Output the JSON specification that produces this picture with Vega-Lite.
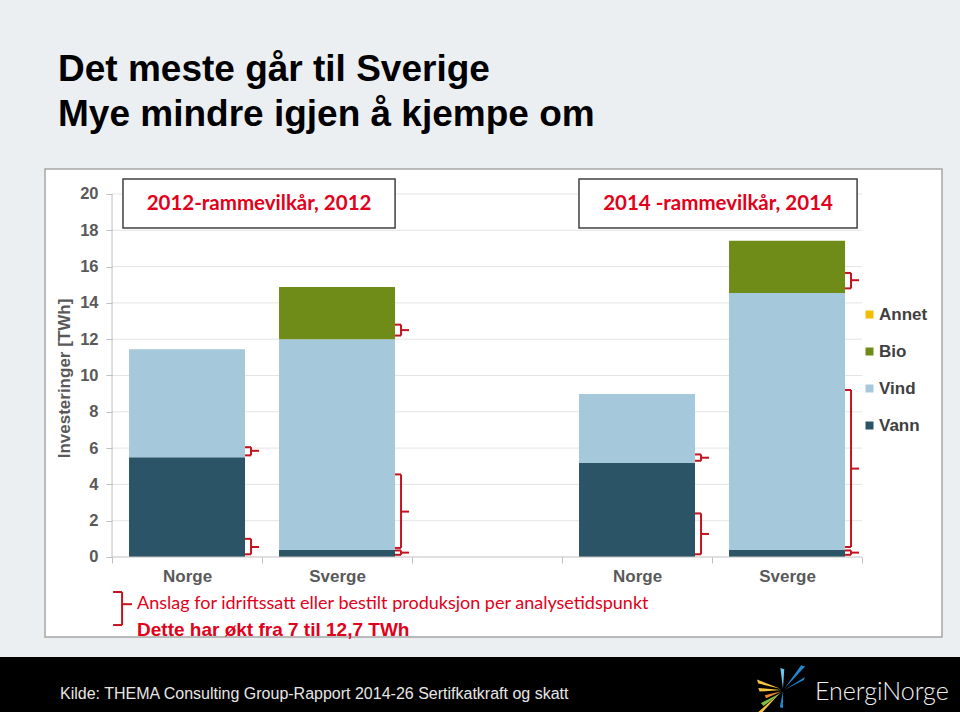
{
  "$schema": "https://vega.github.io/schema/vega-lite/v6.json",
  "background": "#eceff2",
  "padding": {"left": 0, "right": 0, "top": 51, "bottom": 0},
  "spacing": 16,
  "title": {
    "text": ["Det meste går til Sverige", "Mye mindre igjen å kjempe om"],
    "anchor": "start",
    "frame": "group",
    "dx": 58,
    "offset": 34,
    "font": "Liberation Sans",
    "fontSize": 37,
    "fontWeight": "bold",
    "color": "#000000",
    "lineHeight": 45
  },
  "config": {"view": {"stroke": null}, "font": "Liberation Sans"},
  "datasets": {
    "bars": [
      {"slot": "Norge 2012", "src": "Vann", "idx": 1, "v": 5.5},
      {"slot": "Norge 2012", "src": "Vind", "idx": 2, "v": 5.95},
      {"slot": "Sverge 2012", "src": "Vann", "idx": 1, "v": 0.38},
      {"slot": "Sverge 2012", "src": "Vind", "idx": 2, "v": 11.62},
      {"slot": "Sverge 2012", "src": "Bio", "idx": 3, "v": 2.88},
      {"slot": "Norge 2014", "src": "Vann", "idx": 1, "v": 5.18},
      {"slot": "Norge 2014", "src": "Vind", "idx": 2, "v": 3.8},
      {"slot": "Sverge 2014", "src": "Vann", "idx": 1, "v": 0.38},
      {"slot": "Sverge 2014", "src": "Vind", "idx": 2, "v": 14.17},
      {"slot": "Sverge 2014", "src": "Bio", "idx": 3, "v": 2.88}
    ],
    "br": [
      {"slot": "Norge 2012", "lo": 0.15, "hi": 1.0, "mid": 0.55},
      {"slot": "Norge 2012", "lo": 5.6, "hi": 6.05, "mid": 5.85},
      {"slot": "Sverge 2012", "lo": 0.12, "hi": 0.36, "mid": 0.24},
      {"slot": "Sverge 2012", "lo": 0.5, "hi": 4.55, "mid": 2.5},
      {"slot": "Sverge 2012", "lo": 12.2, "hi": 12.8, "mid": 12.5},
      {"slot": "Norge 2014", "lo": 0.15, "hi": 2.4, "mid": 1.27},
      {"slot": "Norge 2014", "lo": 5.3, "hi": 5.65, "mid": 5.47},
      {"slot": "Sverge 2014", "lo": 0.12, "hi": 0.36, "mid": 0.24},
      {"slot": "Sverge 2014", "lo": 0.55, "hi": 9.2, "mid": 4.87},
      {"slot": "Sverge 2014", "lo": 14.8, "hi": 15.65, "mid": 15.25}
    ],
    "grid": [{"g": 2}, {"g": 4}, {"g": 6}, {"g": 8}, {"g": 10}, {"g": 12}, {"g": 14}, {"g": 16}, {"g": 18}, {"g": 20}]
  },
  "vconcat": [
    {
      "spacing": 0,
      "bounds": "flush",
      "hconcat": [
        {"width": 45, "height": 468, "view": {"fill": "#eceff2", "stroke": null}, "data": {"values": []}, "mark": "point"},
        {
          "width": 897,
          "height": 468,
          "view": {"fill": "#ffffff", "stroke": "#a6a6a6", "strokeWidth": 1.5},
          "layer": [
            {
              "data": {"name": "grid"},
              "mark": {"type": "rule", "color": "#e4e4e4", "strokeWidth": 1},
              "encoding": {
                "x": {
                  "datum": "Norge 2012", "bandPosition": 0, "type": "nominal",
                  "scale": {"type": "band", "domain": ["Norge 2012", "Sverge 2012", "–", "Norge 2014", "Sverge 2014"], "paddingInner": 0, "paddingOuter": 0.49, "align": 0.456},
                  "axis": {
                    "orient": "bottom", "offset": -80, "domain": false, "grid": false, "ticks": true, "zindex": 2,
                    "tickBand": "extent", "tickSize": 6, "tickColor": "#bfbfbf", "title": null,
                    "labelExpr": "isString(datum.value) && datum.value != '–' ? split(datum.value, ' ')[0] : ''",
                    "labelFont": "Liberation Sans", "labelFontWeight": "bold", "labelFontSize": 17,
                    "labelColor": "#595959", "labelPadding": 5, "labelAngle": 0
                  }
                },
                "x2": {"datum": "Sverge 2014", "bandPosition": 1},
                "y": {
                  "field": "g", "type": "quantitative",
                  "scale": {"domain": [-4.408, 21.377], "nice": false, "zero": false},
                  "axis": {
                    "orient": "left", "offset": -67, "values": [0, 2, 4, 6, 8, 10, 12, 14, 16, 18, 20], "zindex": 2,
                    "domain": false, "grid": false, "tickSize": 6, "tickColor": "#bfbfbf",
                    "labelFont": "Liberation Sans", "labelFontWeight": "bold", "labelFontSize": 16.5,
                    "labelColor": "#595959", "labelPadding": 8,
                    "title": "Investeringer [TWh]", "titleFont": "Liberation Sans", "titleFontWeight": "bold",
                    "titleFontSize": 17, "titleColor": "#595959", "titleX": -48, "titleY": 209,
                    "titleAngle": 270, "titleAlign": "center", "titleBaseline": "middle"
                  }
                }
              }
            },
            {
              "data": {"name": "bars"},
              "mark": {"type": "bar", "width": {"band": 0.7733}},
              "encoding": {
                "x": {"field": "slot", "type": "nominal", "sort": null},
                "y": {"field": "v", "type": "quantitative", "stack": "zero"},
                "color": {
                  "field": "src", "type": "nominal",
                  "scale": {"domain": ["Annet", "Bio", "Vind", "Vann"], "range": ["#f0bd00", "#6f8b18", "#a5c9da", "#2c5467"]},
                  "legend": {
                    "orient": "none", "legendX": 861, "legendY": 137, "title": null,
                    "symbolType": "square", "symbolSize": 64, "symbolStrokeWidth": 0,
                    "labelFont": "Liberation Sans", "labelFontWeight": "bold", "labelFontSize": 17,
                    "labelColor": "#404040", "rowPadding": 19, "labelOffset": 1, "padding": 0
                  }
                },
                "order": {"field": "idx", "type": "quantitative"}
              }
            },
            {
              "data": {"values": [{"k": "yaxis"}]},
              "mark": {"type": "rule", "color": "#bfbfbf", "strokeWidth": 1},
              "encoding": {
                "x": {"datum": "Norge 2012", "bandPosition": 0},
                "y": {"datum": 0},
                "y2": {"datum": 20}
              }
            },
            {
              "data": {"values": [{"k": "xaxis"}]},
              "mark": {"type": "rule", "color": "#bfbfbf", "strokeWidth": 1},
              "encoding": {
                "x": {"datum": "Norge 2012", "bandPosition": 0},
                "x2": {"datum": "Sverge 2014", "bandPosition": 1},
                "y": {"datum": 0}
              }
            },
            {
              "data": {"name": "br"},
              "mark": {"type": "rule", "color": "#c3131f", "strokeWidth": 2},
              "encoding": {
                "x": {"field": "slot", "type": "nominal", "bandPosition": 0.9267},
                "y": {"field": "lo", "type": "quantitative"},
                "y2": {"field": "hi"}
              }
            },
            {
              "data": {"name": "br"},
              "mark": {"type": "rule", "color": "#c3131f", "strokeWidth": 2},
              "encoding": {
                "x": {"field": "slot", "type": "nominal", "bandPosition": 0.8867},
                "x2": {"field": "slot", "bandPosition": 0.9267},
                "y": {"field": "lo", "type": "quantitative"}
              }
            },
            {
              "data": {"name": "br"},
              "mark": {"type": "rule", "color": "#c3131f", "strokeWidth": 2},
              "encoding": {
                "x": {"field": "slot", "type": "nominal", "bandPosition": 0.8867},
                "x2": {"field": "slot", "bandPosition": 0.9267},
                "y": {"field": "hi", "type": "quantitative"}
              }
            },
            {
              "data": {"name": "br"},
              "mark": {"type": "rule", "color": "#c3131f", "strokeWidth": 2},
              "encoding": {
                "x": {"field": "slot", "type": "nominal", "bandPosition": 0.9267},
                "x2": {"field": "slot", "bandPosition": 0.98},
                "y": {"field": "mid", "type": "quantitative"}
              }
            },
            {
              "data": {"values": [{"k": "box2012"}]},
              "mark": {"type": "rect", "fill": "#ffffff", "stroke": "#404040", "strokeWidth": 1.5},
              "encoding": {
                "x": {"datum": "Norge 2012", "bandPosition": 0.073},
                "x2": {"datum": "Sverge 2012", "bandPosition": 0.887},
                "y": {"datum": 18.13},
                "y2": {"datum": 20.83}
              }
            },
            {
              "data": {"values": [{"k": "head2012"}]},
              "mark": {"type": "text", "text": "2012-rammevilkår, 2012", "font": "Lato", "fontWeight": "bold", "fontSize": 20.5, "color": "#e2001a", "align": "center", "baseline": "middle"},
              "encoding": {
                "x": {"datum": "Norge 2012", "bandPosition": 0.98},
                "y": {"datum": 19.45}
              }
            },
            {
              "data": {"values": [{"k": "box2014"}]},
              "mark": {"type": "rect", "fill": "#ffffff", "stroke": "#404040", "strokeWidth": 1.5},
              "encoding": {
                "x": {"datum": "Norge 2014", "bandPosition": 0.113},
                "x2": {"datum": "Sverge 2014", "bandPosition": 0.967},
                "y": {"datum": 18.13},
                "y2": {"datum": 20.83}
              }
            },
            {
              "data": {"values": [{"k": "head2014"}]},
              "mark": {"type": "text", "text": "2014 -rammevilkår, 2014", "font": "Lato", "fontWeight": "bold", "fontSize": 20.5, "color": "#e2001a", "align": "center", "baseline": "middle"},
              "encoding": {
                "x": {"datum": "Sverge 2014", "bandPosition": 0.04},
                "y": {"datum": 19.45}
              }
            },
            {
              "data": {"values": [{"k": "brace"}]},
              "mark": {"type": "rule", "color": "#c3131f", "strokeWidth": 2},
              "encoding": {
                "x": {"datum": "Norge 2012", "bandPosition": 0.067},
                "y": {"datum": -1.93},
                "y2": {"datum": -3.75}
              }
            },
            {
              "data": {"values": [{"p": -1.93}, {"p": -3.75}]},
              "mark": {"type": "rule", "color": "#c3131f", "strokeWidth": 2},
              "encoding": {
                "x": {"datum": "Norge 2012", "bandPosition": 0.007},
                "x2": {"datum": "Norge 2012", "bandPosition": 0.067},
                "y": {"field": "p", "type": "quantitative"}
              }
            },
            {
              "data": {"values": [{"k": "bracemid"}]},
              "mark": {"type": "rule", "color": "#c3131f", "strokeWidth": 2},
              "encoding": {
                "x": {"datum": "Norge 2012", "bandPosition": 0.067},
                "x2": {"datum": "Norge 2012", "bandPosition": 0.133},
                "y": {"datum": -2.6}
              }
            },
            {
              "data": {"values": [{"k": "note1"}]},
              "mark": {"type": "text", "text": "Anslag for idriftssatt eller bestilt produksjon per analysetidspunkt", "font": "Lato", "fontSize": 18, "color": "#e2001a", "align": "left", "baseline": "middle", "dx": 25},
              "encoding": {
                "x": {"datum": "Norge 2012", "bandPosition": 0},
                "y": {"datum": -2.6}
              }
            },
            {
              "data": {"values": [{"k": "note2"}]},
              "mark": {"type": "text", "text": "Dette har økt fra 7 til 12,7 TWh", "font": "Liberation Sans", "fontWeight": "bold", "fontSize": 19, "color": "#e2001a", "align": "left", "baseline": "alphabetic", "dx": 25},
              "encoding": {
                "x": {"datum": "Norge 2012", "bandPosition": 0},
                "y": {"datum": -4.35}
              }
            }
          ]
        }
      ]
    },
    {
      "width": 960,
      "height": 60,
      "view": {"fill": "#000000", "stroke": null},
      "layer": [
        {
          "data": {"values": [{"part": "kilde", "t": "Kilde: THEMA Consulting Group-Rapport 2014-26 Sertifkatkraft og skatt"}]},
          "mark": {"type": "text", "align": "left", "baseline": "middle", "font": "Liberation Sans", "fontSize": 16, "color": "#e6e6e6", "dy": 7},
          "encoding": {
            "x": {"field": "part", "type": "nominal", "scale": {"type": "point", "domain": ["kilde", "logo"], "padding": 0.1358, "align": 0.2927}, "axis": null},
            "text": {"field": "t"}
          }
        },
        {
          "data": {"values": [{"part": "logo", "t": "EnergiNorge"}]},
          "mark": {"type": "text", "align": "left", "baseline": "middle", "font": "Lato", "fontWeight": 300, "fontSize": 25, "color": "#f0f0f0", "dy": 5},
          "encoding": {
            "x": {"field": "part", "type": "nominal", "axis": null},
            "text": {"field": "t"}
          }
        },
        {
          "data": {"values": [{"part": "logo"}]},
          "mark": {"type": "point", "shape": "M-0.1,-0.05 L-1,-0.4 L-0.95,-0.25 Z M-0.1,0.1 L-0.95,0.85 L-0.85,0.92 Z M-0.05,0 L-0.95,-0.08 L-0.9,0.06 Z", "filled": true, "size": 2704, "color": "#f6c342", "opacity": 1, "xOffset": -32, "yOffset": 3},
          "encoding": {"x": {"field": "part", "type": "nominal", "axis": null}}
        },
        {
          "data": {"values": [{"part": "logo"}]},
          "mark": {"type": "point", "shape": "M-0.05,0.05 L-0.7,0.2 L-0.65,0.32 Z", "filled": true, "size": 2704, "color": "#f08a24", "opacity": 1, "xOffset": -32, "yOffset": 3},
          "encoding": {"x": {"field": "part", "type": "nominal", "axis": null}}
        },
        {
          "data": {"values": [{"part": "logo"}]},
          "mark": {"type": "point", "shape": "M-0.05,0.1 L-0.85,0.5 L-0.75,0.62 Z", "filled": true, "size": 2704, "color": "#7dc242", "opacity": 1, "xOffset": -32, "yOffset": 3},
          "encoding": {"x": {"field": "part", "type": "nominal", "axis": null}}
        },
        {
          "data": {"values": [{"part": "logo"}]},
          "mark": {"type": "point", "shape": "M0,-0.05 L-0.1,-0.85 L0.05,-0.8 Z", "filled": true, "size": 2704, "color": "#6cc7ee", "opacity": 1, "xOffset": -32, "yOffset": 3},
          "encoding": {"x": {"field": "part", "type": "nominal", "axis": null}}
        },
        {
          "data": {"values": [{"part": "logo"}]},
          "mark": {"type": "point", "shape": "M0.05,-0.05 L0.85,-0.9 L0.7,-0.95 Z M0.05,0 L0.85,-0.5 L0.8,-0.38 Z M0,0.05 L0,0.7 L-0.12,0.65 Z", "filled": true, "size": 2704, "color": "#1f8ad0", "opacity": 1, "xOffset": -32, "yOffset": 3},
          "encoding": {"x": {"field": "part", "type": "nominal", "axis": null}}
        }
      ]
    }
  ]
}
